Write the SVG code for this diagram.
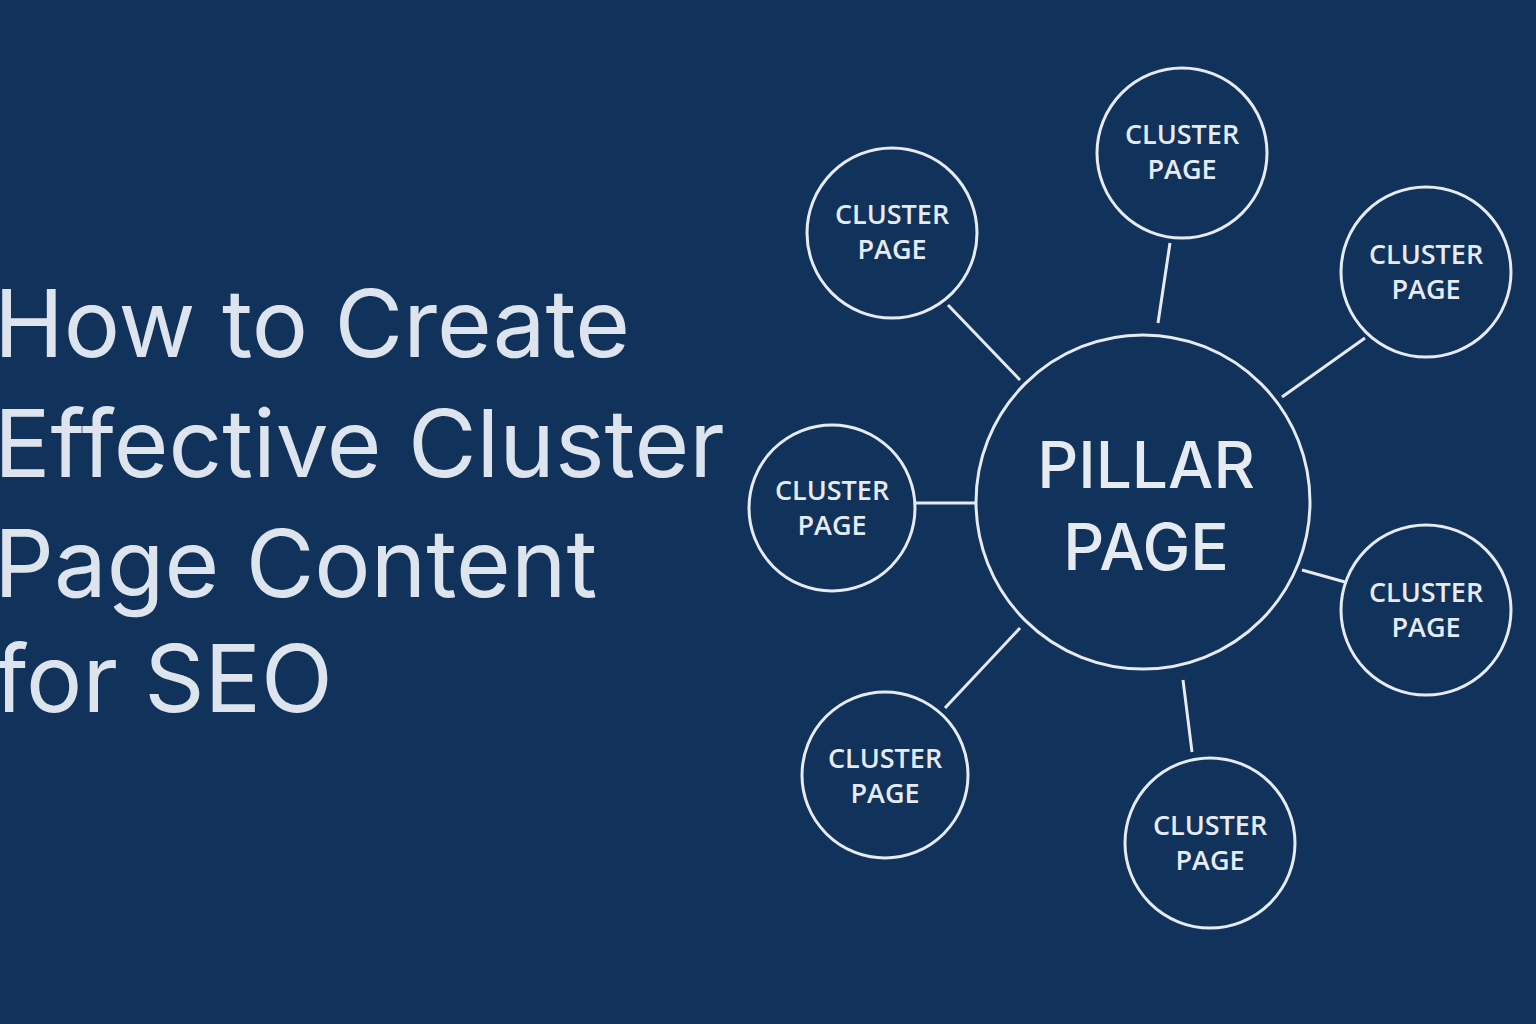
<svg xmlns="http://www.w3.org/2000/svg" width="1536" height="1024" viewBox="0 0 1536 1024">
<style>
.c{fill:none;stroke:#e6ebf2;stroke-width:3}
.l{stroke:#e6ebf2;stroke-width:3}
.t{font-family:"Open Sans","Liberation Sans",sans-serif;font-weight:600;fill:#e6ebf2;text-anchor:middle;font-size:27px}
.p{font-family:"Inter","Liberation Sans",sans-serif;font-weight:500;fill:#e6ebf2;text-anchor:middle;font-size:64px}
.h{font-family:"Inter","Liberation Sans",sans-serif;font-weight:400;fill:#dde4ee;font-size:94px}
</style>
<rect width="1536" height="1024" fill="#11325a"/>
<g id="title" class="h">
<text x="-6" y="357">How to Create</text>
<text x="-6" y="477">Effective Cluster</text>
<text x="-6" y="597">Page Content</text>
<text x="-6" y="712">for SEO</text>
</g>
<g id="connectors">
<line class="l" x1="948" y1="305" x2="1020" y2="380"/>
<line class="l" x1="1170" y1="243" x2="1158" y2="323"/>
<line class="l" x1="1365" y1="338" x2="1282" y2="397"/>
<line class="l" x1="916" y1="503" x2="976" y2="503"/>
<line class="l" x1="1302" y1="570" x2="1345" y2="582"/>
<line class="l" x1="945" y1="708" x2="1020" y2="628"/>
<line class="l" x1="1183" y1="680" x2="1192" y2="752"/>
</g>
<g id="pillar"><circle class="c" cx="1143" cy="502" r="167"/><text class="p" x="1146" y="488">PILLAR</text><text class="p" x="1146" y="570">PAGE</text></g>
<g id="c1"><circle class="c" cx="892" cy="233" r="85"/><text class="t" x="892" y="224">CLUSTER</text><text class="t" x="892" y="259">PAGE</text></g>
<g id="c2"><circle class="c" cx="1182" cy="153" r="85"/><text class="t" x="1182" y="144">CLUSTER</text><text class="t" x="1182" y="179">PAGE</text></g>
<g id="c3"><circle class="c" cx="1426" cy="272" r="85"/><text class="t" x="1426" y="264">CLUSTER</text><text class="t" x="1426" y="299">PAGE</text></g>
<g id="c4"><circle class="c" cx="832" cy="508" r="83"/><text class="t" x="832" y="500">CLUSTER</text><text class="t" x="832" y="535">PAGE</text></g>
<g id="c5"><circle class="c" cx="1426" cy="610" r="85"/><text class="t" x="1426" y="602">CLUSTER</text><text class="t" x="1426" y="637">PAGE</text></g>
<g id="c6"><circle class="c" cx="885" cy="775" r="83"/><text class="t" x="885" y="768">CLUSTER</text><text class="t" x="885" y="803">PAGE</text></g>
<g id="c7"><circle class="c" cx="1210" cy="843" r="85"/><text class="t" x="1210" y="835">CLUSTER</text><text class="t" x="1210" y="870">PAGE</text></g>
</svg>
